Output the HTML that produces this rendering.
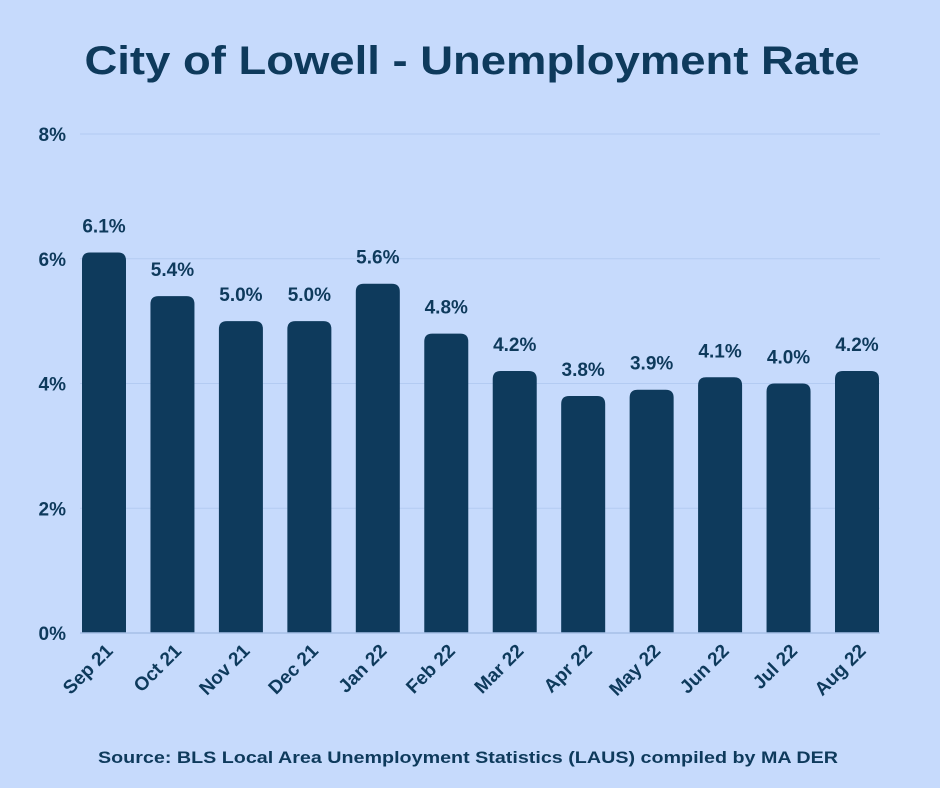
<!DOCTYPE html>
<html><head><meta charset="utf-8"><style>
body{margin:0;background:#c6dafc;}
svg{display:block;font-family:"Liberation Sans",sans-serif;}
</style></head><body>
<svg width="940" height="788" id="c">
<rect width="940" height="788" fill="#c6dafc"/>
<text x="472" y="74" text-anchor="middle" font-size="40" font-weight="bold" fill="#0e3a5c" textLength="775" lengthAdjust="spacingAndGlyphs">City of Lowell - Unemployment Rate</text>
<text x="468" y="763" text-anchor="middle" font-size="17" font-weight="bold" fill="#0e3a5c" textLength="740" lengthAdjust="spacingAndGlyphs">Source: BLS Local Area Unemployment Statistics (LAUS) compiled by MA DER</text>
<g id="g"></g>
</svg>
<script>
const categories=["Sep 21","Oct 21","Nov 21","Dec 21","Jan 22","Feb 22","Mar 22","Apr 22","May 22","Jun 22","Jul 22","Aug 22"];
const values=[6.1,5.4,5.0,5.0,5.6,4.8,4.2,3.8,3.9,4.1,4.0,4.2];
const yTicks=[0,2,4,6,8];
const NS="http://www.w3.org/2000/svg";
const g=document.getElementById('g');
const y0=633,yTop=134,yMax=8;
const y=v=>y0-(v/yMax)*(y0-yTop);
const pitch=(835-82)/11;
const x=i=>82+i*pitch;
const bw=44;
function mk(t,a){const e=document.createElementNS(NS,t);for(const k in a)e.setAttribute(k,a[k]);g.appendChild(e);return e;}
yTicks.forEach(t=>{
  if(t>0){const l=mk('line',{x1:80,x2:880,y1:y(t),y2:y(t),stroke:'#b3cbf2','stroke-width':1});
  
  }
  const tx=mk('text',{x:66,y:y(t)+7,'text-anchor':'end','font-size':19,'font-weight':'bold',fill:'#0e3a5c'});
  tx.textContent=t+'%';
  
  
});
values.forEach((v,i)=>{
  const top=y(v);
  const p=mk('path',{d:`M${x(i)},${y0}V${top+8}Q${x(i)},${top} ${x(i)+8},${top}H${x(i)+bw-8}Q${x(i)+bw},${top} ${x(i)+bw},${top+8}V${y0}Z`,fill:'#0e3a5c'});
  
  
  const lb=mk('text',{x:x(i)+bw/2,y:top-20,'text-anchor':'middle','font-size':19,'font-weight':'bold',fill:'#0e3a5c'});
  lb.textContent=v.toFixed(1)+'%';
  
  
  const cx=x(i)+bw/2+10,cy=652;
  const c=mk('text',{x:cx,y:cy,'text-anchor':'end','font-size':19,'font-weight':'bold',fill:'#0e3a5c',transform:`rotate(-45 ${cx} ${cy})`});
  c.textContent=categories[i];
  
  
});
const b=mk('line',{x1:80,x2:880,y1:y0,y2:y0,stroke:'#a6bfe6','stroke-width':1.5});


</script>
</body></html>
